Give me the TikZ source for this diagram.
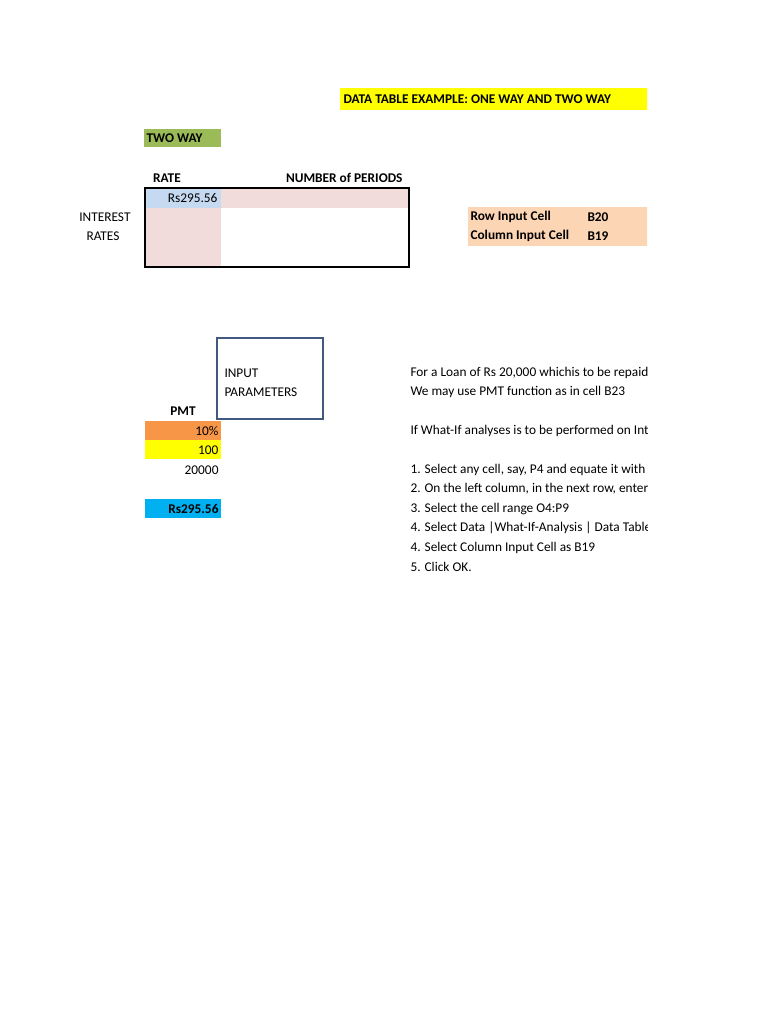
\documentclass[tikz,border=0pt]{standalone}
\usepackage{fontspec}
\setmainfont{Carlito}
\definecolor{titleyellow}{RGB}{255,255,0}
\definecolor{waygreen}{RGB}{155,187,89}
\definecolor{cellblue}{RGB}{197,217,241}
\definecolor{cellpink}{RGB}{242,220,219}
\definecolor{inputpeach}{RGB}{252,213,180}
\definecolor{rateorange}{RGB}{247,150,70}
\definecolor{pmtcyan}{RGB}{0,176,240}
\definecolor{boxblue}{RGB}{65,89,127}
\tikzset{
  every picture/.style={line width=0.75pt},
  celltext/.style={inner sep=0pt,font=\fontsize{10}{12}\selectfont},
  boldtext/.style={celltext,font=\fontsize{10}{12}\selectfont\bfseries},
}
\begin{document}
\begin{tikzpicture}[x=0.75pt,y=0.75pt,yscale=-1,xscale=1]
	\useasboundingbox (0,0) rectangle (768,1024);
	\begin{scope}
	\clip (0,0) rectangle (647,1024);

	%Title
	\fill [titleyellow] (340,88) rectangle (650,110);
	\draw (343,99) node [boldtext,anchor=west] (title) {DATA TABLE EXAMPLE: ONE WAY AND TWO WAY};
	\fill [waygreen] (144,129) rectangle (221,147);
	\draw (146,138) node [boldtext,anchor=west] (twoway) {TWO WAY};

	%Two way table
	\draw (167,178) node [boldtext] (rate) {RATE};
	\draw (403,178) node [boldtext,anchor=east] (periods) {NUMBER of PERIODS};
	\fill [cellblue] (145,188) rectangle (221,208);
	\fill [cellpink] (221,188) rectangle (409,208);
	\fill [cellpink] (145,208) rectangle (221,267);
	\draw [line width=1.6pt] (145,188) rectangle (409,267);
	\draw (218,198) node [celltext,anchor=east] (ratecell) {Rs295.56};
	\draw (131,217) node [celltext,anchor=east] (interest) {INTEREST};
	\draw (103,236) node [celltext] (rates) {RATES};

	%Input cells
	\fill [inputpeach] (468,207) rectangle (650,246);
	\draw (470,217) node [boldtext,anchor=west] (rowin) {Row Input Cell};
	\draw (587,217) node [boldtext,anchor=west] (rowref) {B20};
	\draw (470,236) node [boldtext,anchor=west] (colin) {Column Input Cell};
	\draw (587,236) node [boldtext,anchor=west] (colref) {B19};

	%Input parameters
	\draw [boxblue,line width=1.3pt] (217,338) rectangle (323,419);
	\draw (224,373) node [celltext,anchor=west] (input) {INPUT};
	\draw (224,392) node [celltext,anchor=west] (params) {PARAMETERS};
	\draw (183,411) node [boldtext] (pmt) {PMT};
	\fill [rateorange] (145,421) rectangle (221,440);
	\draw (219,431) node [celltext,anchor=east] (ratein) {10\%};
	\fill [titleyellow] (145,440) rectangle (221,459);
	\draw (219,450) node [celltext,anchor=east] (nper) {100};
	\draw (219,470) node [celltext,anchor=east] (loan) {20000};
	\fill [pmtcyan] (145,499) rectangle (221,518);
	\draw (219,509) node [boldtext,anchor=east] (pmtval) {Rs295.56};

	%Notes
	\draw (410,373) node [celltext,anchor=west] (n1) {For a Loan of Rs 20,000 whichis to be repaid in 100 periods};
	\draw (410,392) node [celltext,anchor=west] (n2) {We may use PMT function as in cell B23};
	\draw (410,431) node [celltext,anchor=west] (n3) {If What-If analyses is to be performed on Interest rates};
	\draw (410,470) node [celltext,anchor=west] (n4) {1. Select any cell, say, P4 and equate it with B23};
	\draw (410,489) node [celltext,anchor=west] (n5) {2. On the left column, in the next row, enter the rates};
	\draw (410,509) node [celltext,anchor=west] (n6) {3. Select the cell range O4:P9};
	\draw (410,528) node [celltext,anchor=west] (n7) {4. Select Data |What-If-Analysis | Data Table};
	\draw (410,548) node [celltext,anchor=west] (n8) {4. Select Column Input Cell as B19};
	\draw (410,567) node [celltext,anchor=west] (n9) {5. Click OK.};
	\end{scope}
\end{tikzpicture}
\end{document}
